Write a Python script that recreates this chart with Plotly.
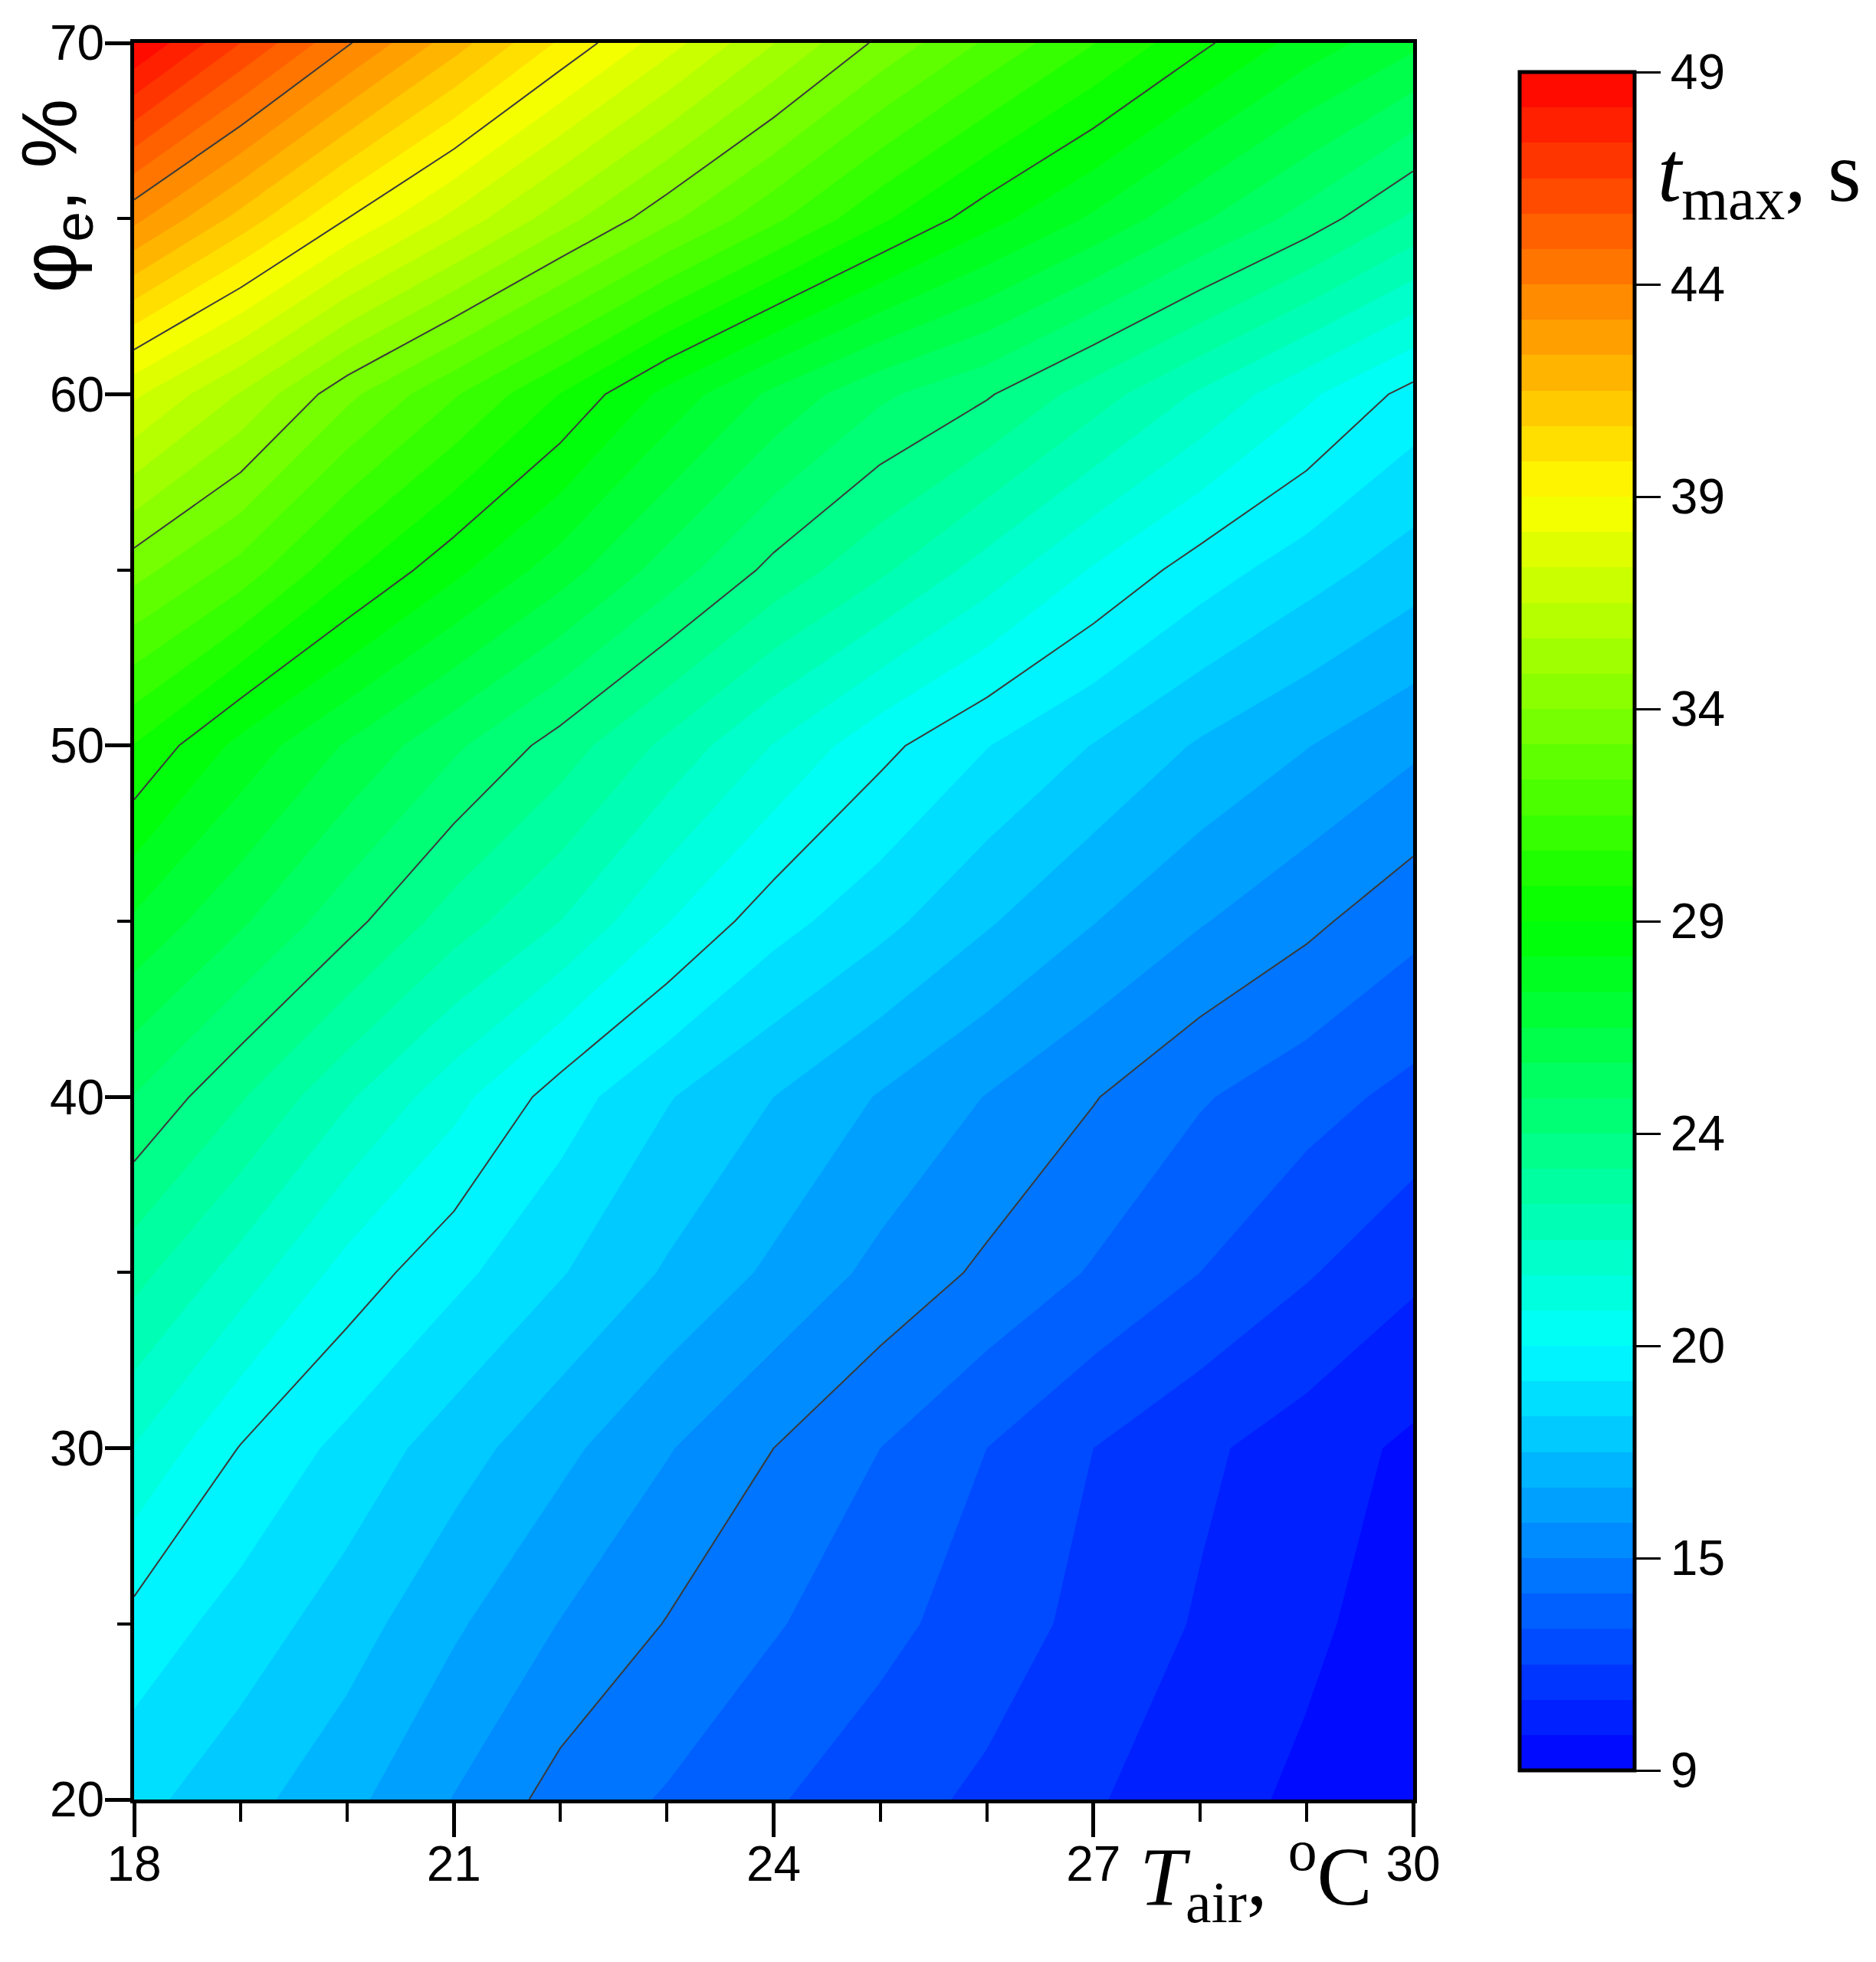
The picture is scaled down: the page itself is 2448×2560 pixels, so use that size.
import numpy as np
import plotly.graph_objects as go

# air temperature, degC (columns) and relative humidity, % (rows)
t_air = [18, 19, 20, 21, 22, 23, 24, 25, 26, 27, 28, 29, 30]
phi_e = [20, 25, 30, 35, 40, 45, 50, 55, 60, 65, 70]

# t_max, s, one row per phi_e value
t_max_20 = [18.6, 17.8, 16.9, 15.8, 14.6, 13.9, 13.1, 12.4, 11.8, 11.1, 10.4, 9.8, 9.3]
t_max_25 = [19.7, 18.8, 17.9, 16.8, 15.8, 14.95, 14.1, 13.3, 12.5, 11.7, 10.9, 10.2, 9.5]
t_max_30 = [21.3, 19.95, 18.9, 17.9, 16.9, 15.9, 15.0, 14.0, 13.0, 12.0, 11.2, 10.5, 9.8]
t_max_35 = [22.9, 21.7, 20.4, 19.4, 18.4, 17.4, 16.5, 15.6, 14.8, 13.9, 13.0, 12.1, 11.2]
t_max_40 = [24.8, 23.4, 22.1, 20.9, 19.6, 18.4, 17.5, 16.6, 15.8, 15.05, 14.1, 13.4, 12.7]
t_max_45 = [27.2, 25.8, 24.3, 23.0, 22.0, 20.7, 19.5, 18.6, 17.6, 16.7, 15.9, 15.2, 14.3]
t_max_50 = [29.8, 27.9, 26.4, 25.0, 23.7, 22.5, 21.3, 20.2, 19.2, 18.3, 17.4, 16.7, 16.0]
t_max_55 = [33.5, 32.0, 30.0, 28.4, 26.9, 25.3, 23.8, 22.8, 21.7, 20.6, 19.6, 18.7, 17.9]
t_max_60 = [37.5, 35.6, 33.4, 31.6, 29.8, 27.9, 26.3, 25.0, 24.1, 23.0, 21.9, 20.8, 19.7]
t_max_65 = [43.4, 41.2, 39.0, 37.1, 35.2, 33.4, 31.7, 30.0, 28.5, 27.2, 25.8, 24.5, 23.2]
t_max_70 = [49.0, 46.5, 44.1, 41.9, 39.7, 37.7, 35.7, 33.8, 32.2, 30.7, 29.2, 27.8, 26.7]

# colour scale labels (levels are spaced evenly on the bar, values are not)
level_vals = [9, 15, 20, 24, 29, 34, 39, 44, 49]
level_text = ["9", "15", "20", "24", "29", "34", "39", "44", "49"]

z = np.array([t_max_20, t_max_25, t_max_30, t_max_35, t_max_40, t_max_45,
              t_max_50, t_max_55, t_max_60, t_max_65, t_max_70])
level_idx = [6 * i for i in range(len(level_vals))]
z_idx = np.interp(z, level_vals, level_idx)

rainbow = [
    [0.0, "rgb(0,0,255)"],
    [0.125, "rgb(0,128,255)"],
    [0.25, "rgb(0,255,255)"],
    [0.375, "rgb(0,255,128)"],
    [0.5, "rgb(0,255,0)"],
    [0.625, "rgb(128,255,0)"],
    [0.75, "rgb(255,255,0)"],
    [0.875, "rgb(255,128,0)"],
    [1.0, "rgb(255,0,0)"],
]

fig = go.Figure()

fig.add_trace(go.Contour(
    x=t_air, y=phi_e, z=z_idx,
    zmin=0, zmax=48,
    colorscale=rainbow,
    contours=dict(start=0, end=48, size=1, coloring="fill", showlines=False),
    line=dict(smoothing=0, width=0),
    colorbar=dict(
        x=1.0833, xanchor="left", xpad=0,
        y=0.5, yanchor="middle", ypad=0,
        len=2216, lenmode="pixels",
        thickness=150,
        outlinecolor="black", outlinewidth=5,
        tickmode="array", tickvals=level_idx, ticktext=level_text,
        ticks="outside", ticklen=32, tickwidth=3, tickcolor="black",
        tickfont=dict(family="Liberation Sans", size=64, color="black"),
    ),
    hoverinfo="skip",
))

# thin contour lines at the labelled levels
fig.add_trace(go.Contour(
    x=t_air, y=phi_e, z=z_idx,
    showscale=False,
    contours=dict(start=6, end=42, size=6, coloring="none"),
    line=dict(color="#3a3a3a", width=2, smoothing=0),
    hoverinfo="skip",
))

fig.update_xaxes(
    range=[18, 30], tickvals=[18, 21, 24, 27, 30],
    ticks="outside", ticklen=44, tickwidth=5, tickcolor="black",
    ticklabelstandoff=-20,
    minor=dict(dtick=1, ticks="outside", ticklen=24, tickwidth=4, tickcolor="black"),
    showline=True, linewidth=5, linecolor="black", mirror=True,
    showgrid=False, zeroline=False,
    tickfont=dict(family="Liberation Sans", size=64, color="black"),
)
fig.update_yaxes(
    range=[20, 70], tickvals=[20, 30, 40, 50, 60, 70],
    ticks="outside", ticklen=33, tickwidth=5, tickcolor="black",
    ticklabelstandoff=-12,
    minor=dict(dtick=5, ticks="outside", ticklen=17, tickwidth=4, tickcolor="black"),
    showline=True, linewidth=5, linecolor="black", mirror=True,
    showgrid=False, zeroline=False,
    tickfont=dict(family="Liberation Sans", size=64, color="black"),
)

fig.add_annotation(
    text="<i>T</i><sub>air</sub>, <sup>o</sup>C",
    xref="paper", yref="paper", x=0.877, y=-0.01,
    xanchor="center", yanchor="top", showarrow=False,
    font=dict(family="Liberation Serif", size=108, color="black"),
)
fig.add_annotation(
    text="φ<sub>e</sub>, %",
    xref="paper", yref="paper", x=-0.062, y=0.913,
    xanchor="center", yanchor="middle", textangle=-90, showarrow=False,
    font=dict(family="Liberation Sans", size=102, color="black"),
)
fig.add_annotation(
    text="<i>t</i><sub>max</sub>, s",
    xref="paper", yref="paper", x=1.19, y=0.923,
    xanchor="left", yanchor="middle", showarrow=False,
    font=dict(family="Liberation Serif", size=112, color="black"),
)

fig.update_layout(
    width=2440, height=2552,
    margin=dict(l=167, r=604, t=38, b=212),
    plot_bgcolor="white", paper_bgcolor="white",
    showlegend=False,
)

fig.write_html("out.html")
